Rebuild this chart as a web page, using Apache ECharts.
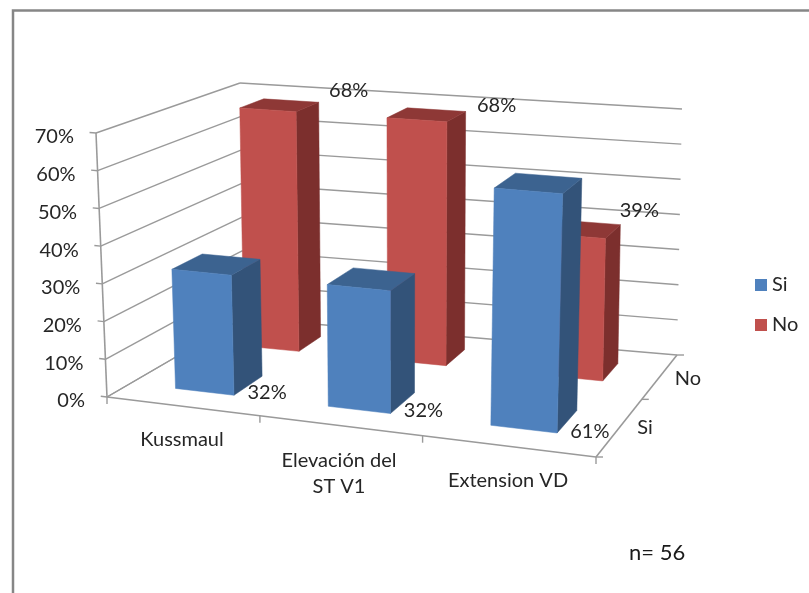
<!DOCTYPE html>
<html><head><meta charset="utf-8">
<style>html,body{margin:0;padding:0;background:#fff}#c{width:809px;height:593px}</style>
<script src="https://cdn.jsdelivr.net/npm/echarts@6/dist/echarts.min.js"></script>
</head><body><div id="c"></div>
<script>
const categories = ['Kussmaul', 'Elevación del\nST V1', 'Extension VD'];
const depthNames = ['Si', 'No'];
const siValues = [32, 32, 61];
const noValues = [68, 68, 39];
const valueTicks = [0, 10, 20, 30, 40, 50, 60, 70];
const noteText = 'n= 56';

// view of the 3D box (style/layout only)
const box = {
  flb:[107,397], frb:[596,457], blb:[243,318], brb:[677,355],
  flt:[96,133],  frt:[605,174], blt:[240,83],  brt:[682,109]
};
const warpU = 0.91, warpV = 1.3, maxV = 70;
const barU = 0.13, barShift = 0, barV = [[0.14,0.34],[0.64,0.84]];
const siLabelOff = [[5,16],[9,18],[13,21]];
const noLabelOff = [[30,-12],[31,-6],[19,-14]];
const FONT = 'Lato', TXT = '#262626', AX = '#9a9a9a', FS = 20;
const colors = {
  Si:{front:'#4F81BD', side:'#335379', top:'#3C6390'},
  No:{front:'#C0504D', side:'#7C2F2D', top:'#8E3836'}
};

const lerp = (a,b,t)=>[a[0]+(b[0]-a[0])*t, a[1]+(b[1]-a[1])*t];
const wu = u=>u*warpU/(1+(warpU-1)*u), wv = v=>v*warpV/(1+(warpV-1)*v);
function proj(u,v,w){
  const U=wu(u), V=wv(v);
  const fb=lerp(box.flb,box.frb,U), bb=lerp(box.blb,box.brb,U);
  const ft=lerp(box.flt,box.frt,U), bt=lerp(box.blt,box.brt,U);
  return lerp(lerp(fb,bb,V), lerp(ft,bt,V), w);
}
// height fraction comes from the library's value axis
function hOf(api,val){
  const y0=api.coord([0,0])[1], y1=api.coord([0,maxV])[1], y=api.coord([0,val])[1];
  return (y-y0)/(y1-y0);
}
const poly=(pts,fill)=>({type:'polygon',shape:{points:pts},style:{fill,stroke:fill,lineWidth:0.5}});
const line=(a,b,w)=>({type:'line',shape:{x1:a[0],y1:a[1],x2:b[0],y2:b[1]},style:{stroke:AX,lineWidth:w||1.4}});
const txt=(x,y,s,align,size)=>({type:'text',x,y,style:{text:s,fill:TXT,font:(size||FS)+'px '+FONT,align:align||'center',verticalAlign:'middle',lineHeight:26}});

function barItem(row,cfg,offs){
  return function(params,api){
    const c=api.value(0), val=api.value(1), h=hOf(api,val);
    const n=categories.length, cx=(c+0.5)/n+barShift;
    const u0=cx-barU/2,u1=cx+barU/2,[v0,v1]=barV[row];
    const a=proj(u0,v0,0),b=proj(u1,v0,0),d=proj(u1,v1,0);
    const at=proj(u0,v0,h),bt=proj(u1,v0,h),dt=proj(u1,v1,h),et=proj(u0,v1,h);
    const anchor = row===0?d:dt, off=offs[c];
    return {type:'group',children:[
      poly([bt,dt,d,b],cfg.side),
      poly([at,bt,dt,et],cfg.top),
      poly([at,bt,b,a],cfg.front),
      txt(anchor[0]+off[0],anchor[1]+off[1],api.value(1)+'%','center')
    ]};
  };
}
function wallItem(params,api){
  const val=api.value(1), h=hOf(api,val);
  const f=proj(0,0,h), b=proj(0,1,h), r=proj(1,1,h), t=proj(-0.014,0,h);
  return {type:'group',children:[
    line(f,b), line(b,r), line(t,f),
    txt(f[0]-22,f[1]+4,val+'%','right')
  ]};
}
function floorItem(params,api){
  const kids=[line(proj(0,0,0),proj(0,1,0))];
  kids.push(line(proj(0,0,0),proj(1,0,0),1.6), line(proj(1,0,0),proj(1,1,0),1.6));
  kids.push(line(proj(0,0,1),proj(0,0,0),1.6));
  const n=categories.length;
  for(let i=0;i<=n;i++){const p=proj(i/n,0,0);kids.push(line(p,[p[0],p[1]+7]));}
  for(let i=0;i<=depthNames.length;i++){const p=proj(1,i/depthNames.length,0);kids.push(line(p,[p[0]+7,p[1]]));}
  const catPos=[[182,440],[339,474],[508,481]];
  categories.forEach((s,i)=>kids.push(txt(catPos[i][0],catPos[i][1],s,'center')));
  const dPos=[[645,428],[688,379]];
  depthNames.forEach((s,i)=>kids.push(txt(dPos[i][0],dPos[i][1],s,'center')));
  return {type:'group',children:kids};
}

const chart=echarts.init(document.getElementById('c'),null,{renderer:'canvas'});
chart.setOption({
  animation:false,
  backgroundColor:'#fff',
  grid:{left:100,right:100,top:100,bottom:100},
  xAxis:{type:'category',data:categories,show:false},
  yAxis:{type:'value',min:0,max:maxV,interval:10,show:false},
  legend:{orient:'vertical',left:755,top:275,padding:0,itemWidth:12,itemHeight:12,itemGap:20,icon:'rect',
    data:depthNames,selectedMode:false,textStyle:{fontFamily:FONT,fontSize:FS,color:TXT}},
  graphic:[
    {type:'polyline',shape:{points:[[13,593],[13,10.5],[809,10.5]]},style:{stroke:'#868686',fill:null,lineWidth:2.5}},
    {type:'text',x:629,y:553,style:{text:noteText,fill:'#1a1a1a',font:'22px '+FONT,verticalAlign:'middle'}}
  ],
  series:[
    {type:'custom',name:'walls',z:1,silent:true,data:valueTicks.map(v=>[0,v]),renderItem:wallItem,encode:{x:0,y:1}},
    {type:'custom',name:'floor',z:1,silent:true,data:[[0,0]],renderItem:floorItem,encode:{x:0,y:1}},
    {type:'custom',name:'No',z:2,itemStyle:{color:colors.No.front},data:noValues.map((v,i)=>[i,v]),renderItem:barItem(1,colors.No,noLabelOff),encode:{x:0,y:1}},
    {type:'custom',name:'Si',z:3,itemStyle:{color:colors.Si.front},data:siValues.map((v,i)=>[i,v]),renderItem:barItem(0,colors.Si,siLabelOff),encode:{x:0,y:1}}
  ]
});
</script></body></html>
